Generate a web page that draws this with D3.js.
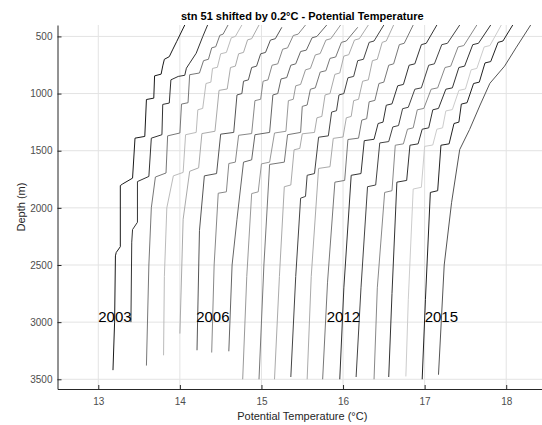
<!DOCTYPE html>
<html>
<head>
<meta charset="utf-8">
<script src="https://cdn.jsdelivr.net/npm/d3@7"></script>
<style>
  body { margin: 0; background: #fff; }
  text { font-family: "Liberation Sans", Arial, sans-serif; }
</style>
</head>
<body>
<svg id="chart" width="542" height="425"></svg>
<script>
// stn 51 potential temperature profiles, each one shifted by 0.2 C
// points are [depth (m), potential temperature (C), unshifted]
const prof00 = [[400,14.06],[546,13.96],[618,13.91],[677,13.87],[700,13.81],[758,13.79],[830,13.77],[845,13.69],[1040,13.68],[1052,13.59],[1375,13.57],[1390,13.45],[1740,13.42],[1790,13.30],[1805,13.27],[2340,13.27],[2390,13.22],[2420,13.21],[3000,13.20],[3420,13.18]];
const prof01 = [[400,14.14],[502,14.08],[647,14.00],[734,13.92],[778,13.88],[840,13.86],[850,13.78],[880,13.69],[1083,13.67],[1095,13.59],[1360,13.58],[1390,13.45],[1725,13.42],[1770,13.28],[2126,13.28],[2190,13.22],[2300,13.21],[3000,13.20]];
const prof02 = [[400,14.19],[480,14.13],[490,14.09],[590,14.04],[600,13.99],[700,13.95],[712,13.89],[820,13.84],[835,13.72],[1080,13.70],[1092,13.62],[1345,13.60],[1370,13.45],[1695,13.43],[1730,13.30],[2000,13.25],[2500,13.22],[3380,13.19]];
const prof03 = [[400,14.16],[500,14.08],[512,14.03],[640,13.97],[652,13.90],[770,13.86],[780,13.80],[900,13.78],[912,13.72],[1130,13.68],[1142,13.62],[1340,13.60],[1360,13.47],[1690,13.44],[1720,13.32],[2000,13.24],[2600,13.21],[3290,13.20]];
const prof04 = [[400,14.17],[520,14.08],[530,14.03],[640,13.98],[652,13.92],[760,13.88],[772,13.82],[960,13.78],[972,13.68],[1330,13.63],[1350,13.47],[1650,13.43],[1680,13.32],[2100,13.24],[3100,13.20]];
const prof05 = [[420,14.25],[520,14.17],[532,14.11],[640,14.05],[652,13.99],[760,13.94],[772,13.88],[880,13.84],[892,13.78],[1000,13.76],[1012,13.70],[1340,13.66],[1355,13.50],[1700,13.45],[1720,13.30],[2200,13.24],[3246,13.21]];
const prof06 = [[400,14.34],[480,14.25],[492,14.19],[600,14.12],[612,14.06],[740,14.00],[752,13.93],[880,13.88],[892,13.82],[1050,13.79],[1062,13.72],[1350,13.68],[1365,13.52],[1600,13.48],[1612,13.40],[1860,13.37],[1872,13.27],[2500,13.22],[3266,13.19]];
const prof07 = [[400,14.40],[500,14.28],[512,14.22],[620,14.15],[632,14.08],[740,14.02],[752,13.96],[860,13.91],[872,13.84],[1000,13.80],[1012,13.74],[1340,13.70],[1360,13.52],[1580,13.48],[1600,13.38],[2100,13.30],[2500,13.24],[3255,13.20]];
const prof08 = [[400,14.37],[520,14.25],[532,14.19],[650,14.12],[662,14.06],[780,14.00],[792,13.94],[920,13.88],[932,13.82],[1050,13.79],[1062,13.73],[1330,13.70],[1345,13.56],[1600,13.50],[1615,13.40],[1860,13.36],[1875,13.28],[2600,13.22],[3500,13.17]];
const prof09 = [[420,14.38],[540,14.24],[552,14.18],[680,14.11],[692,14.04],[800,13.99],[812,13.92],[950,13.86],[962,13.80],[1100,13.76],[1112,13.70],[1340,13.68],[1360,13.52],[1600,13.48],[1620,13.30],[2500,13.23],[3500,13.17]];
const prof10 = [[400,14.31],[520,14.20],[532,14.14],[660,14.07],[672,14.01],[820,13.96],[832,13.90],[1000,13.84],[1012,13.78],[1200,13.74],[1212,13.68],[1340,13.65],[1352,13.50],[1480,13.47],[1492,13.40],[1800,13.36],[1815,13.28],[2600,13.22],[3500,13.16]];
const prof11 = [[400,14.30],[540,14.18],[552,14.12],[700,14.05],[712,13.98],[850,13.93],[862,13.86],[1000,13.81],[1012,13.75],[1150,13.72],[1162,13.66],[1370,13.62],[1382,13.50],[1700,13.45],[1715,13.36],[1900,13.34],[1915,13.28],[2600,13.22],[3480,13.16]];
const prof12 = [[400,14.22],[540,14.13],[552,14.08],[700,14.02],[712,13.96],[880,13.91],[892,13.84],[1050,13.79],[1062,13.73],[1200,13.70],[1212,13.64],[1380,13.60],[1392,13.48],[1640,13.44],[1655,13.30],[2600,13.21],[3500,13.16]];
const prof13 = [[400,14.26],[560,14.15],[572,14.09],[740,14.02],[752,13.96],[900,13.90],[912,13.84],[1060,13.79],[1072,13.72],[1220,13.69],[1232,13.63],[1390,13.59],[1402,13.46],[1760,13.42],[1775,13.30],[2650,13.21],[3500,13.15]];
const prof14 = [[400,14.35],[560,14.22],[572,14.16],[740,14.08],[752,14.01],[920,13.94],[932,13.87],[1090,13.80],[1102,13.73],[1250,13.69],[1262,13.63],[1400,13.58],[1412,13.46],[1700,13.42],[1715,13.30],[2700,13.21],[3500,13.16]];
const prof15 = [[400,14.43],[560,14.28],[572,14.21],[740,14.12],[752,14.05],[950,13.96],[962,13.88],[1120,13.80],[1132,13.73],[1280,13.68],[1292,13.61],[1420,13.56],[1432,13.45],[1800,13.40],[1815,13.30],[2700,13.22],[3480,13.16]];
const prof16 = [[400,14.44],[580,14.28],[592,14.21],[760,14.12],[772,14.05],[950,13.96],[962,13.88],[1130,13.79],[1142,13.71],[1300,13.66],[1312,13.59],[1440,13.54],[1452,13.44],[1850,13.40],[1865,13.31],[2700,13.22],[3500,13.18]];
const prof17 = [[400,14.41],[560,14.26],[572,14.19],[760,14.09],[772,14.02],[950,13.94],[962,13.86],[1130,13.77],[1142,13.70],[1300,13.65],[1312,13.57],[1440,13.52],[1452,13.42],[1760,13.38],[1775,13.26],[2750,13.20],[3480,13.16]];
const prof18 = [[400,14.34],[580,14.20],[592,14.13],[780,14.04],[792,13.97],[960,13.90],[972,13.82],[1140,13.74],[1152,13.66],[1300,13.62],[1312,13.55],[1450,13.50],[1462,13.40],[1820,13.36],[1835,13.26],[2800,13.20],[3475,13.17]];
const prof19 = [[400,14.28],[540,14.16],[552,14.10],[720,14.01],[732,13.94],[900,13.87],[912,13.80],[1080,13.72],[1092,13.65],[1250,13.62],[1262,13.56],[1440,13.50],[1452,13.40],[1850,13.36],[1865,13.27],[2800,13.21],[3500,13.17]];
const prof20 = [[400,14.30],[600,14.12],[760,13.98],[910,13.80],[1100,13.68],[1316,13.55],[1490,13.43],[1955,13.33],[2500,13.24],[3460,13.17]];

const profiles = [prof00, prof01, prof02, prof03, prof04, prof05, prof06, prof07, prof08, prof09, prof10,
  prof11, prof12, prof13, prof14, prof15, prof16, prof17, prof18, prof19, prof20];
const lineGray = ['#1a1a1a','#333333','#777777','#bbbbbb','#aaaaaa','#555555','#888888','#666666','#999999','#777777','#aaaaaa',
  '#444444','#aaaaaa','#777777','#333333','#444444','#888888','#333333','#cccccc','#222222','#555555'];
const shift = 0.2;

const yearLabels = ['2003', '2006', '2012', '2015'];
const yearTemp = [13.0, 14.2, 15.8, 17.0];
const yearDepth = 2950;

const xTicks = [13, 14, 15, 16, 17, 18];
const yTicks = [500, 1000, 1500, 2000, 2500, 3000, 3500];

const svg = d3.select('#chart'),
  margin = { top: 25, left: 57.5 },
  W = 489.5,
  H = 364;

const g = svg.append('g')
  .attr('transform', `translate(${margin.left},${margin.top})`);

const x = d3.scaleLinear().domain([12.5, 18.5]).range([0, W]);
const y = d3.scaleLinear().domain([400, 3585]).range([0, H]);

// grid
g.append('g').selectAll('line')
  .data(xTicks).join('line')
  .attr('x1', d => x(d)).attr('x2', d => x(d))
  .attr('y1', 0).attr('y2', H)
  .attr('stroke', '#e3e3e3');
g.append('g').selectAll('line')
  .data(yTicks).join('line')
  .attr('x1', 0).attr('x2', W)
  .attr('y1', d => y(d)).attr('y2', d => y(d))
  .attr('stroke', '#e3e3e3');

// profiles
const line = d3.line()
  .x(d => x(d[1]))
  .y(d => y(d[0]));

g.append('g').selectAll('path')
  .data(profiles)
  .join('path')
  .attr('d', (p, i) => line(p.map(d => [d[0], d[1] + i * shift])))
  .attr('fill', 'none')
  .attr('stroke', (p, i) => lineGray[i])
  .attr('stroke-width', 1);

// year labels
g.append('g').selectAll('text')
  .data(yearLabels)
  .join('text')
  .attr('x', (d, i) => x(yearTemp[i]))
  .attr('y', y(yearDepth))
  .attr('dominant-baseline', 'central')
  .style('font-size', '15px')
  .attr('fill', '#000')
  .text(d => d);

// axes
const yAxis = g.append('g')
  .call(d3.axisLeft(y).tickValues(yTicks).tickFormat(d3.format('d'))
    .tickSize(-4).tickSizeOuter(0).tickPadding(5));
const xAxis = g.append('g')
  .attr('transform', `translate(0,${H})`)
  .call(d3.axisBottom(x).tickValues(xTicks).tickFormat(d3.format('d'))
    .tickSize(-4).tickSizeOuter(0).tickPadding(9));

[yAxis, xAxis].forEach(a => {
  a.select('.domain').attr('stroke', '#262626');
  a.selectAll('.tick line').attr('stroke', '#262626');
  a.selectAll('.tick text')
    .attr('fill', '#4d4d4d')
    .style('font-size', '10px')
    .style('font-family', '"Liberation Sans", Arial, sans-serif');
});

svg.append('text')
  .attr('x', margin.left + W / 2)
  .attr('y', 20)
  .attr('text-anchor', 'middle')
  .style('font-size', '11px')
  .style('font-weight', 'bold')
  .attr('fill', '#000')
  .text('stn 51 shifted by 0.2°C - Potential Temperature');

svg.append('text')
  .attr('x', margin.left + W / 2)
  .attr('y', 420)
  .attr('text-anchor', 'middle')
  .style('font-size', '11px')
  .attr('fill', '#262626')
  .text('Potential Temperature (°C)');

svg.append('text')
  .attr('x', -(margin.top + H / 2))
  .attr('y', 25)
  .attr('transform', 'rotate(-90)')
  .attr('text-anchor', 'middle')
  .style('font-size', '11px')
  .attr('fill', '#262626')
  .text('Depth (m)');
</script>
</body>
</html>
